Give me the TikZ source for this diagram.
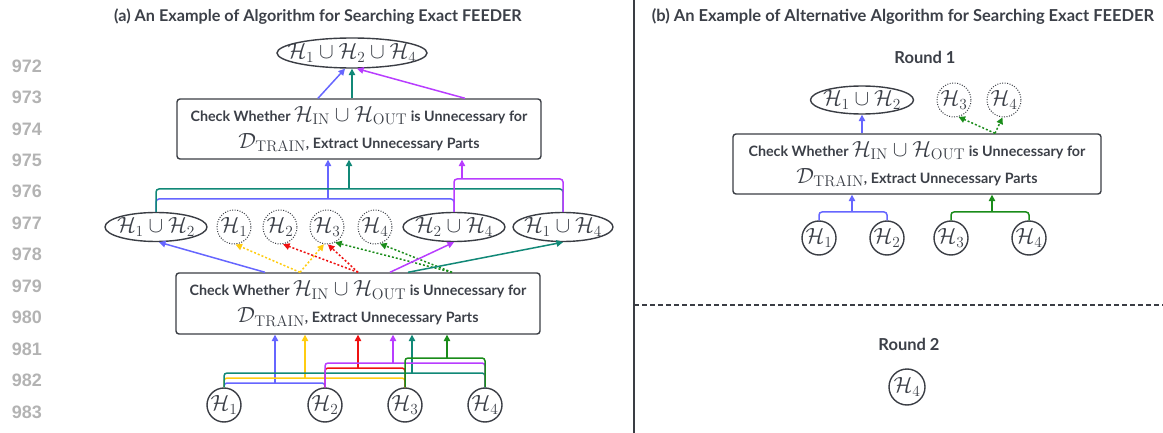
\RequirePackage{fix-cm}
\documentclass[tikz,border=0pt]{standalone}
\usepackage[no-math]{fontspec}
\setmainfont{Lato}
\newfontfamily\numfont{Liberation Sans}
\usetikzlibrary{arrows.meta,shapes.geometric}
\definecolor{txt}{HTML}{3C4048}
\definecolor{edge}{HTML}{3A3D44}
\definecolor{numc}{HTML}{B3B3B3}
\definecolor{cblue}{HTML}{6666FF}
\definecolor{cyel}{HTML}{FFCC11}
\definecolor{cred}{HTML}{EE1111}
\definecolor{cpur}{HTML}{B83DFF}
\definecolor{cteal}{HTML}{118877}
\definecolor{cgrn}{HTML}{1A8C1A}
\newcommand{\mth}[1]{{\fontsize{22}{24}\selectfont$#1$}}
\newcommand{\mthb}[1]{{\fontsize{22}{24}\selectfont$#1$}}
\newcommand{\Hc}{\mathcal{H}}
\newcommand{\chk}{Check Whether \mth{\Hc_{\mathrm{IN}}\cup\Hc_{\mathrm{OUT}}} is Unnecessary for\\\mth{\mathcal{D}_{\mathrm{TRAIN}}}, Extract Unnecessary Parts}
\tikzset{
 every node/.style={text=txt},
 ell/.style={ellipse, draw=edge, line width=1.4pt, inner sep=0pt, minimum height=29pt},
 circ/.style={circle, draw=edge, line width=1.4pt, inner sep=0pt, minimum size=34pt},
 dcirc/.style={circle, draw=edge, line width=1pt, dash pattern=on 1pt off 1.5pt, inner sep=0pt, minimum size=34pt},
 procbox/.style={rectangle, rounded corners=3pt, draw=edge, line width=1.4pt, align=center, inner sep=0pt, font=\fontsize{14.3}{27}\selectfont\bfseries},
 conn/.style={line width=1.5pt, rounded corners=3pt},
 arr/.style={line width=1.5pt, -{Triangle[length=6.5pt,width=6.5pt]}},
 darr/.style={arr, dash pattern=on 2pt off 2pt},
 ttl/.style={font=\fontsize{16.2}{18}\selectfont\bfseries},
 lnum/.style={font=\numfont\bfseries\fontsize{18}{20}\selectfont, text=numc},
}
\begin{document}
\begin{tikzpicture}[x=1pt,y=-1pt]
\useasboundingbox (0,0) rectangle (1163,433);
% line numbers
\foreach \n [count=\i from 0] in {972,973,974,975,976,977,978,979,980,981,982,983}
  \node[lnum] (ln\n) at (27,{66+31.45*\i}) {\n};
% titles
\node[ttl] (ta) at (318,17) {(a) An Example of Algorithm for Searching Exact FEEDER};
\node[ttl, font=\fontsize{16.5}{18}\selectfont\bfseries] (tb) at (903,17) {(b) An Example of Alternative Algorithm for Searching Exact FEEDER};
% dividers
\coordinate (vtop) at (634,0); \coordinate (vbot) at (634,433);
\draw[edge, line width=2pt] (vtop) -- (vbot);
\coordinate (dl) at (634,305); \coordinate (dr) at (1163,305);
\draw[edge, line width=1.3pt, dash pattern=on 5pt off 3pt] (dl) -- (dr);

% ===== part (a) =====
\node[ell, minimum width=150pt, minimum height=30pt, label=center:{\mthb{\Hc_1\cup\Hc_2\cup\Hc_4}}] (top) at (352,53) {};
\node[procbox, minimum width=364pt, minimum height=60pt] (boxU) at (359,129) {\chk};
\node[ell, minimum width=102pt, label=center:{\mthb{\Hc_1\cup\Hc_2}}] (e12) at (156,227) {};
\node[dcirc] (d1) at (234,227) {\mthb{\Hc_1}};
\node[dcirc] (d2) at (280,227) {\mthb{\Hc_2}};
\node[dcirc] (d3) at (327,227) {\mthb{\Hc_3}};
\node[dcirc] (d4) at (375,227) {\mthb{\Hc_4}};
\node[ell, minimum width=102pt, label=center:{\mthb{\Hc_2\cup\Hc_4}}] (e24) at (454,227) {};
\node[ell, minimum width=100pt, label=center:{\mthb{\Hc_1\cup\Hc_4}}] (e14) at (563,227) {};
\node[procbox, minimum width=364pt, minimum height=61pt] (boxL) at (358,303.5) {\chk};
\node[circ] (b1) at (224,405) {\mthb{\Hc_1}};
\node[circ] (b2) at (325,405) {\mthb{\Hc_2}};
\node[circ] (b3) at (405,405) {\mthb{\Hc_3}};
\node[circ] (b4) at (485,405) {\mthb{\Hc_4}};

% upper box -> top ellipse
\draw[arr,cblue] (318,0 |- boxU.north) -- ([xshift=-7pt]top.south);
\draw[arr,cteal] (top.south |- boxU.north) -- (top.south);
\draw[arr,cpur] (465,0 |- boxU.north) -- ([xshift=5pt]top.south);

% middle row -> upper box (brackets)
\coordinate (jm1) at (328,199);
\coordinate (jm2) at (349,189);
\coordinate (jm3) at (462,179);
\draw[conn,cblue] (e12.north) |- (jm1) -| (e24.north);
\draw[arr,cblue] (jm1) -- (jm1 |- boxU.south);
\draw[conn,cteal] (e12.north) |- (jm2) -| (e14.north);
\draw[arr,cteal] (jm2) -- (jm2 |- boxU.south);
\draw[conn,cpur] (e24.north) |- (jm3) -| (e14.north);
\draw[arr,cpur] (jm3) -- (jm3 |- boxU.south);

% lower box -> middle row
\draw[arr,cblue] (265,0 |- boxL.north) -- ([xshift=3pt]e12.south);
\draw[darr,cyel] (300,0 |- boxL.north) -- (d1.-85);
\draw[darr,cyel] (300,0 |- boxL.north) -- (d3.-100);
\draw[darr,cred] (358,0 |- boxL.north) -- (d2.-80);
\draw[darr,cred] (358,0 |- boxL.north) -- (d3.-87);
\draw[darr,cgrn] (452,0 |- boxL.north) -- (d3.-62);
\draw[darr,cgrn] (452,0 |- boxL.north) -- (d4.-73);
\draw[arr,cpur] (390,0 |- boxL.north) -- (e24.south);
\draw[arr,cteal] (408,0 |- boxL.north) -- (e14.south);

% bottom circles -> lower box (brackets)
\coordinate (jb1) at (275,383);
\coordinate (jb2) at (305,378);
\coordinate (jb3) at (358,368);
\coordinate (jb4) at (412,373);
\coordinate (jb5) at (393,363);
\coordinate (jb6) at (447,358);
\draw[conn,cblue] (b1.north) |- (jb1) -| (b2.north);
\draw[arr,cblue] (jb1) -- (jb1 |- boxL.south);
\draw[conn,cyel] (b1.north) |- (jb2) -| (b3.north);
\draw[arr,cyel] (jb2) -- (jb2 |- boxL.south);
\draw[conn,cred] (b2.north) |- (jb3) -| (b3.north);
\draw[arr,cred] (jb3) -- (jb3 |- boxL.south);
\draw[conn,cteal] (b1.north) |- (jb4) -| (b4.north);
\draw[arr,cteal] (jb4) -- (jb4 |- boxL.south);
\draw[conn,cpur] (b2.north) |- (jb5) -| (b4.north);
\draw[arr,cpur] (jb5) -- (jb5 |- boxL.south);
\draw[conn,cgrn] (b3.north) |- (jb6) -| (b4.north);
\draw[arr,cgrn] (jb6) -- (jb6 |- boxL.south);

% ===== part (b) =====
\node[ttl, font=\fontsize{16.5}{18}\selectfont\bfseries] (r1) at (925,57) {Round 1};
\node[ell, minimum width=103pt, minimum height=28pt, label=center:{\mthb{\Hc_1\cup\Hc_2}}] (f12) at (862,100) {};
\node[dcirc] (g3) at (954,100) {\mthb{\Hc_3}};
\node[dcirc] (g4) at (1004,100) {\mthb{\Hc_4}};
\node[procbox, minimum width=368pt, minimum height=60pt] (boxB) at (917,164) {\chk};
\node[circ] (c1) at (819,238) {\mthb{\Hc_1}};
\node[circ] (c2) at (887,238) {\mthb{\Hc_2}};
\node[circ] (c3) at (951,238) {\mthb{\Hc_3}};
\node[circ] (c4) at (1029,238) {\mthb{\Hc_4}};
\draw[arr,cblue] (f12.south |- boxB.north) -- (f12.south);
\draw[darr,cgrn] (995,0 |- boxB.north) -- (g3.-75);
\draw[darr,cgrn] (995,0 |- boxB.north) -- (g4.-95);
\coordinate (kb1) at (852,212);
\coordinate (kb2) at (992,212);
\draw[conn,cblue] (c1.north) |- (kb1) -| (c2.north);
\draw[arr,cblue] (kb1) -- (kb1 |- boxB.south);
\draw[conn,cgrn] (c3.north) |- (kb2) -| (c4.north);
\draw[arr,cgrn] (kb2) -- (kb2 |- boxB.south);
\node[ttl, font=\fontsize{16.5}{18}\selectfont\bfseries] (r2) at (909,344) {Round 2};
\node[circ, minimum size=36pt] (h4) at (907,387) {\mthb{\Hc_4}};
\end{tikzpicture}
\end{document}
